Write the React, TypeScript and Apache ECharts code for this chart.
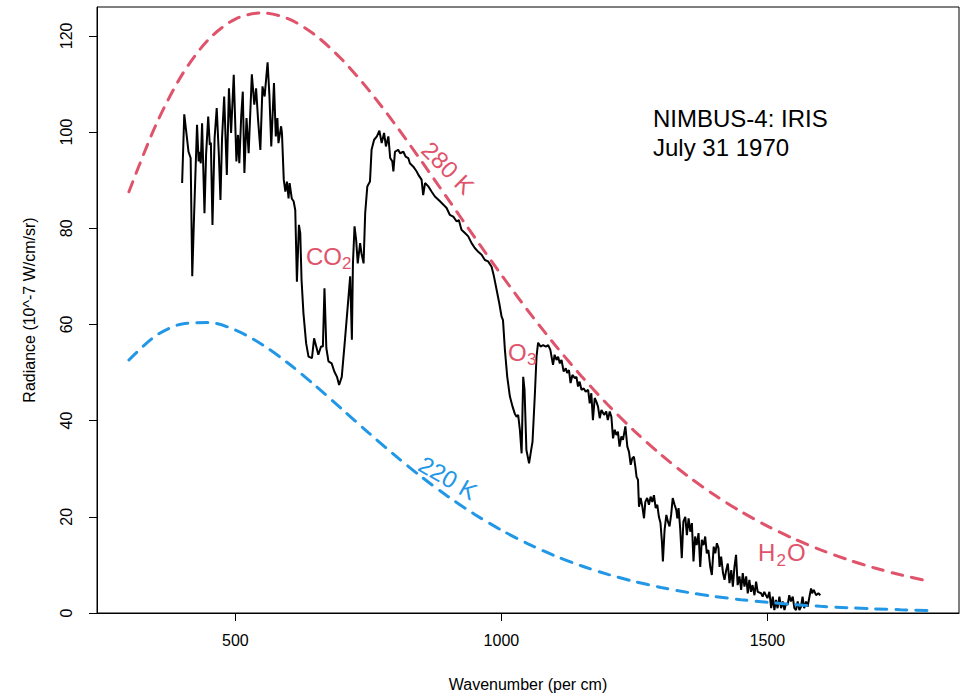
import React, { useEffect, useRef } from "react";
import * as echarts from "echarts";

// Observed spectrum (NIMBUS-4 IRIS, July 31 1970)
const wavenumber = [
  400, 404, 412, 416, 419, 422.5, 428, 431, 433, 435, 437.5, 442, 445, 449, 452, 454, 457, 461, 465, 469,
  472, 475, 479, 484, 488, 492, 497, 502, 505, 507.5, 511, 514, 517, 521, 525, 531, 535.6, 539, 542.5, 547,
  551, 555, 560.6, 564, 567.5, 572.6, 576, 579, 581, 586, 587.6, 591, 594, 597, 600, 602, 606, 609.5, 612.6, 615.7,
  619.5, 622, 624.4, 628, 633, 637.5, 644, 648, 652, 656, 661, 664.5, 667.5, 671, 675, 681, 686, 691, 695, 700,
  706, 711.4, 715.8, 719, 721, 724, 727, 730, 734.5, 737, 741, 744, 748, 753, 756, 760.8, 766, 770.7, 775, 779.5,
  783, 787.6, 791, 795, 797, 800, 806, 809.6, 815.8, 820, 825, 828, 834.5, 840.8, 844, 850, 853, 856.5, 862.7, 869,
  875, 884.6, 891, 897, 903, 909.6, 916, 920, 925, 931.5, 937.7, 944, 950, 956.5, 962.8, 969, 975, 981.6, 986, 991,
  996, 1000.4, 1003, 1006.6, 1011, 1016, 1021, 1025, 1028.5, 1031.5, 1034.7, 1038, 1041, 1043.5, 1047, 1052, 1056, 1058.5, 1063, 1066,
  1069, 1073.5, 1078.5, 1083.5, 1088, 1092, 1097, 1100, 1103.6, 1106.6, 1109.8, 1113, 1117, 1121, 1123.5, 1127, 1130, 1133.5, 1138, 1141,
  1144, 1147, 1150.5, 1154.8, 1158.5, 1163, 1166, 1169, 1172, 1175.4, 1178.6, 1181.6, 1184.8, 1188, 1193, 1197, 1200, 1203.6, 1206.7, 1209.8,
  1213, 1216, 1219, 1222, 1225.5, 1228.5, 1233, 1236.7, 1239.8, 1243, 1246, 1249, 1251.8, 1254, 1256.7, 1258.6, 1261.7, 1264.9, 1268, 1270.5,
  1274, 1277.3, 1280.5, 1283.6, 1286.7, 1290, 1293, 1296, 1299, 1301.7, 1303.5, 1306.7, 1310, 1313, 1316, 1319, 1322, 1325.5, 1328.7, 1330.6,
  1333, 1336, 1339, 1342, 1345.6, 1348.6, 1351.8, 1355, 1358, 1361, 1364, 1367, 1370.5, 1373.7, 1376.7, 1380, 1383, 1386, 1389, 1392.5,
  1395.5, 1399, 1402, 1405, 1408, 1410, 1413, 1416.5, 1419.3, 1422.5, 1425.5, 1428.7, 1432, 1435, 1438, 1441, 1444, 1447.4, 1450.6, 1453.6,
  1456.8, 1460, 1463, 1466, 1469, 1472, 1475.6, 1478.7, 1481.7, 1488, 1491, 1494, 1500, 1503.7, 1507, 1510, 1513, 1516, 1519, 1522.5,
  1525.6, 1528.7, 1532, 1535, 1538, 1541, 1544, 1547.5, 1550.6, 1553.7, 1556.8, 1560, 1563, 1566, 1569, 1572.6, 1575.5, 1579, 1582, 1584,
  1587, 1591.4, 1595.7, 1599.4,
];
const radiance = [
  89.4, 103.7, 95.9, 94.6, 70.0, 82.8, 101.5, 93.9, 95.9, 93.5, 101.8, 83.1, 95.3, 103.2, 97.3, 97.8, 80.7, 98.7, 105.0, 95.3,
  85.9, 98.7, 107.4, 91.1, 109.1, 99.8, 111.9, 93.9, 99.4, 93.5, 103.2, 108.4, 91.5, 102.9, 95.6, 112.0, 105.7, 109.1, 102.9, 96.3,
  109.5, 107.4, 114.5, 107.7, 97.0, 110.2, 99.1, 102.9, 97.7, 101.2, 99.8, 90.1, 87.6, 89.7, 86.2, 89.4, 86.2, 85.6, 83.8, 68.9,
  80.7, 79.0, 69.3, 62.3, 56.1, 53.3, 53.0, 57.1, 55.4, 53.7, 55.4, 55.4, 67.5, 55.1, 52.3, 51.9, 50.2, 49.1, 47.4, 49.1,
  56.8, 64.0, 70.0, 56.8, 72.7, 80.4, 77.6, 72.7, 76.9, 74.8, 72.7, 83.1, 88.7, 89.7, 96.3, 98.4, 99.1, 100.3, 97.7, 99.8,
  97.0, 99.1, 94.6, 93.9, 91.8, 95.9, 96.3, 95.6, 95.9, 94.9, 94.6, 93.5, 92.8, 91.8, 91.1, 90.1, 86.9, 89.4, 88.7, 87.6,
  86.6, 85.6, 84.9, 84.2, 82.8, 82.4, 81.4, 81.7, 79.7, 79.0, 78.3, 76.9, 75.9, 75.1, 74.5, 73.4, 73.1, 72.0, 70.0, 67.2,
  64.4, 61.6, 60.9, 54.7, 49.1, 45.0, 42.9, 41.5, 40.8, 41.2, 38.1, 33.2, 49.1, 46.4, 33.9, 31.1, 33.9, 35.6, 45.7, 53.3,
  56.2, 55.4, 55.7, 55.4, 55.7, 54.7, 51.6, 53.7, 52.6, 53.3, 51.9, 52.6, 50.2, 50.9, 49.9, 50.5, 47.8, 49.5, 48.8, 49.1,
  47.1, 48.1, 46.4, 46.7, 46.0, 46.4, 43.6, 45.7, 40.1, 44.7, 43.9, 42.9, 40.5, 42.2, 41.2, 41.9, 40.1, 41.9, 40.8, 36.3,
  38.1, 37.0, 37.7, 34.6, 36.7, 36.0, 38.8, 34.6, 33.5, 30.8, 32.2, 32.5, 30.4, 28.3, 27.7, 22.1, 23.9, 22.1, 19.7, 23.1,
  23.9, 22.5, 24.2, 23.1, 24.5, 21.8, 22.5, 20.0, 18.7, 14.8, 10.7, 17.3, 20.4, 19.0, 18.0, 20.4, 23.9, 22.5, 21.4, 19.7,
  21.8, 17.6, 11.4, 19.0, 20.0, 16.2, 19.7, 16.9, 18.7, 10.7, 15.9, 14.1, 16.6, 9.6, 15.2, 14.1, 15.9, 12.4, 13.1, 9.6,
  7.9, 13.8, 12.4, 14.5, 13.5, 9.6, 11.7, 8.3, 6.9, 8.9, 10.3, 6.2, 8.9, 5.5, 9.6, 12.1, 5.8, 7.6, 4.8, 8.3,
  5.5, 7.6, 4.1, 6.9, 4.4, 5.8, 3.7, 6.5, 4.4, 4.1, 3.4, 4.4, 3.1, 4.4, 1.0, 3.4, 0.6, 2.7, 1.0, 3.4,
  1.0, 2.4, 0.6, 2.0, 1.7, 3.7, 2.4, 3.4, 1.0, 0.6, 2.4, 0.6, 1.3, 3.4, 1.0, 2.4, 1.3, 3.4, 5.1, 4.1,
  4.8, 3.7, 4.1, 3.7,
];

// Blackbody reference curves
const curveWavenumber = [
  300, 350, 400, 450, 500, 550, 600, 650, 700, 750, 800, 850, 900, 950, 1000, 1050,
  1100, 1150, 1200, 1250, 1300, 1350, 1400, 1450, 1500, 1550, 1600, 1650, 1700, 1750, 1800,
];
const radiance280K = [
  87.58, 101.31, 111.94, 119.3, 123.49, 124.78, 123.53, 120.17, 115.12, 108.82, 101.64, 93.92, 86.0, 78.05, 70.29, 62.85,
  55.83, 49.3, 43.3, 37.83, 32.9, 28.49, 24.57, 21.11, 18.07, 15.42, 13.12, 11.13, 9.41, 7.94, 6.68,
];
const radiance220K = [
  52.6, 57.61, 60.11, 60.39, 58.85, 55.84, 51.87, 47.29, 42.42, 37.51, 32.76, 28.29, 24.19, 20.5, 17.23, 14.38,
  11.92, 9.82, 8.04, 6.55, 5.32, 4.29, 3.45, 2.77, 2.21, 1.76, 1.39, 1.1, 0.87, 0.68, 0.54,
];

const xTicks = [500, 1000, 1500];
const yTicks = [0, 20, 40, 60, 80, 100, 120];

const RED = "#DF536B";
const BLUE = "#2297E6";
const FONT = "'Liberation Sans', Arial, Helvetica, sans-serif";

function txt(text: string, x: number, y: number, size: number, color: string, opts: any = {}) {
  return {
    type: "text",
    x,
    y,
    rotation: opts.rotation || 0,
    z: 100,
    style: {
      text,
      fill: color,
      fontSize: size,
      fontFamily: FONT,
      align: opts.align || "left",
      verticalAlign: "middle",
      textAlign: opts.align || "left",
      textVerticalAlign: "middle",
    },
  };
}

export default function App() {
  const ref = useRef<HTMLDivElement>(null);
  useEffect(() => {
    document.body.style.margin = "0";
    if (!ref.current) return;
    const chart = echarts.init(ref.current, undefined, { renderer: "svg" });
    const spectrum = wavenumber.map((w, i) => [w, radiance[i]]);
    const c280 = curveWavenumber.map((w, i) => [w, radiance280K[i]]);
    const c220 = curveWavenumber.map((w, i) => [w, radiance220K[i]]);
    const option: any = {
      animation: false,
      backgroundColor: "#fff",
      grid: {
        left: 97,
        right: 9,
        top: 7,
        bottom: 83,
        show: true,
        borderColor: "#000",
        borderWidth: 1,
        backgroundColor: "transparent",
      },
      xAxis: {
        type: "value",
        min: 240,
        max: 1860,
        axisLine: { show: true, lineStyle: { color: "#000", width: 1 } },
        axisTick: { show: true, length: 8, customValues: xTicks, lineStyle: { color: "#000" } },
        axisLabel: {
          customValues: xTicks,
          formatter: (v: number) => String(v),
          color: "#000",
          fontSize: 16,
          fontFamily: FONT,
          margin: 19,
        },
        splitLine: { show: false },
      },
      yAxis: {
        type: "value",
        min: 0,
        max: 126,
        axisLine: { show: true, lineStyle: { color: "#000", width: 1 } },
        axisTick: { show: true, length: 8, customValues: yTicks, lineStyle: { color: "#000" } },
        axisLabel: {
          customValues: yTicks,
          formatter: (v: number) => String(v),
          color: "#000",
          fontSize: 16,
          fontFamily: FONT,
          rotate: 90,
          margin: 23,
        },
        splitLine: { show: false },
      },
      series: [
        {
          type: "line",
          data: spectrum,
          showSymbol: false,
          symbol: "none",
          lineStyle: { color: "#000", width: 2 },
          z: 2,
        },
        {
          type: "line",
          data: c280,
          showSymbol: false,
          symbol: "none",
          smooth: 0.3,
          lineStyle: { color: RED, width: 3, type: [11, 9], cap: "round" },
          z: 3,
        },
        {
          type: "line",
          data: c220,
          showSymbol: false,
          symbol: "none",
          smooth: 0.3,
          lineStyle: { color: BLUE, width: 3, type: [11, 9], cap: "round" },
          z: 3,
        },
      ],
      graphic: [
        txt("NIMBUS-4: IRIS", 653, 118, 24, "#000"),
        txt("July 31 1970", 653, 147, 24, "#000"),
        txt("280 K", 448, 168, 24, RED, { align: "center", rotation: -Math.PI / 4 }),
        txt("220 K", 448, 478, 24, BLUE, { align: "center", rotation: -Math.PI / 6 }),
        txt("CO", 306, 256, 24, RED),
        txt("2", 342, 263, 17, RED),
        txt("O", 508, 352, 24, RED),
        txt("3", 527, 359, 17, RED),
        txt("H", 758, 552, 24, RED),
        txt("2", 776.5, 560, 17, RED),
        txt("O", 787, 552, 24, RED),
        txt("Wavenumber (per cm)", 528, 684, 16, "#000", { align: "center" }),
        txt("Radiance (10^-7 W/cm/sr)", 29, 310, 16, "#000", { align: "center", rotation: Math.PI / 2 }),
      ],
    };
    chart.setOption(option);
    return () => chart.dispose();
  }, []);
  return <div ref={ref} style={{ width: 968, height: 696 }} />;
}
